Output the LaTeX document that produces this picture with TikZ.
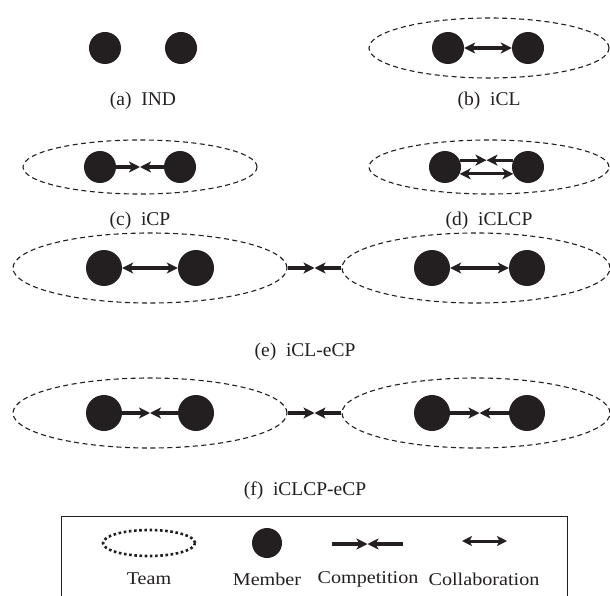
\documentclass[tikz,border=0pt]{standalone}
\usepackage{fontspec}
\setmainfont{Liberation Serif}
\newfontfamily\legfont[FakeStretch=1.12]{Liberation Serif}
\usetikzlibrary{arrows.meta,shapes.geometric,calc}
\definecolor{ink}{HTML}{231F20}
\begin{document}
\begin{tikzpicture}[x=1pt,y=-1pt,
  >={Stealth[length=11pt,width=11pt,inset=3pt]},
  member/.style={circle,fill=ink,draw=none,inner sep=0pt,minimum size=#1},
  member/.default=32pt,
  team/.style={ellipse,draw=ink,dash pattern=on 5pt off 3.5pt,line width=1.1pt,inner sep=0pt},
  legteam/.style={ellipse,draw=ink,dash pattern=on 2.6pt off 2.6pt,line width=2.6pt,inner sep=0pt},
  captext/.style={font=\fontsize{19.5pt}{22pt}\selectfont,text=ink,inner sep=0pt},
  legtext/.style={font=\legfont\fontsize{18pt}{21pt}\selectfont,text=ink,inner sep=0pt},
  collab/.style={<->,draw=ink,line width=3.2pt},
  legcollab/.style={{Stealth[length=10pt,width=10pt,inset=2.5pt]}-{Stealth[length=10pt,width=10pt,inset=2.5pt]},draw=ink,line width=3pt},
  comp/.style={->,draw=ink,line width=3.2pt},
]
\useasboundingbox (0,0) rectangle (610,596);

% (a)
\node[member] (a1) at (105,48) {};
\node[member] (a2) at (181,48) {};
\node[captext] (la) at (143,101) {(a)\hspace{0.5em}IND};

% (b)
\node[team,minimum width=240pt,minimum height=60pt] (tb) at (489,48) {};
\node[member] (b1) at (448,48) {};
\node[member] (b2) at (528,48) {};
\draw[collab] (b1) -- (b2);
\node[captext] (lb) at (489,101) {(b)\hspace{0.5em}iCL};

% (c)
\node[team,minimum width=234pt,minimum height=54pt] (tc) at (140,167) {};
\node[member] (c1) at (100,167) {};
\node[member] (c2) at (180,167) {};
\coordinate (cm) at ($(c1)!0.5!(c2)$);
\draw[comp] (c1) -- (cm);
\draw[comp] (c2) -- (cm);
\node[captext] (lc) at (140,221) {(c)\hspace{0.5em}iCP};

% (d)
\node[team,minimum width=240pt,minimum height=54pt] (td) at (489,167) {};
\node[member] (d1) at (445,167) {};
\node[member] (d2) at (528,167) {};
\coordinate (dm) at ($(d1.25)!0.5!(d2.155)$);
\draw[comp] (d1.25) -- (dm);
\draw[comp] (d2.155) -- (dm);
\draw[collab] (d1.-25) -- (d2.-155);
\node[captext] (ld) at (489,221) {(d)\hspace{0.5em}iCLCP};

% (e)
\node[team,minimum width=274pt,minimum height=70pt] (te1) at (150,268) {};
\node[team,minimum width=268pt,minimum height=70pt] (te2) at (476,268) {};
\node[member=36pt] (e1) at (104,268) {};
\node[member=36pt] (e2) at (196,268) {};
\node[member=36pt] (e3) at (432,268) {};
\node[member=36pt] (e4) at (527,268) {};
\draw[collab] (e1) -- (e2);
\draw[collab] (e3) -- (e4);
\coordinate (em) at ($(te1.east)!0.5!(te2.west)$);
\draw[comp] (te1.east) -- (em);
\draw[comp] (te2.west) -- (em);
\node[captext] (le) at (305,352) {(e)\hspace{0.5em}iCL-eCP};

% (f)
\node[team,minimum width=274pt,minimum height=70pt] (tf1) at (150,413) {};
\node[team,minimum width=268pt,minimum height=70pt] (tf2) at (476,413) {};
\node[member=36pt] (f1) at (104,413) {};
\node[member=36pt] (f2) at (196,413) {};
\node[member=36pt] (f3) at (432,413) {};
\node[member=36pt] (f4) at (527,413) {};
\coordinate (fm1) at ($(f1)!0.5!(f2)$);
\draw[comp] (f1) -- (fm1);
\draw[comp] (f2) -- (fm1);
\coordinate (fm2) at ($(f3)!0.5!(f4)$);
\draw[comp] (f3) -- (fm2);
\draw[comp] (f4) -- (fm2);
\coordinate (fm) at ($(tf1.east)!0.5!(tf2.west)$);
\draw[comp] (tf1.east) -- (fm);
\draw[comp] (tf2.west) -- (fm);
\node[captext] (lf) at (305,491) {(f)\hspace{0.5em}iCLCP-eCP};

% legend
\coordinate (lbl) at (61,597);
\coordinate (ltl) at (61,516);
\coordinate (ltr) at (567,516);
\coordinate (lbr) at (567,597);
\draw[draw=ink,line width=1pt] (lbl) -- (ltl) -- (ltr) -- (lbr);
\node[legteam,minimum width=92pt,minimum height=26pt] (lt) at (149,543) {};
\node[member=30pt] (lm) at (267,543) {};
\coordinate (lc1) at (332,544);
\coordinate (lc2) at (403,544);
\coordinate (lcm) at ($(lc1)!0.5!(lc2)$);
\draw[comp] (lc1) -- (lcm);
\draw[comp] (lc2) -- (lcm);
\coordinate (lk1) at (462,541);
\coordinate (lk2) at (507,541);
\draw[legcollab] (lk1) -- (lk2);
\node[legtext] (ltt) at (149,579) {Team};
\node[legtext] (lmt) at (267,579) {Member};
\node[legtext] (lct) at (368,579) {Competition};
\node[legtext] (lkt) at (484,579) {Collaboration};
\end{tikzpicture}
\end{document}
